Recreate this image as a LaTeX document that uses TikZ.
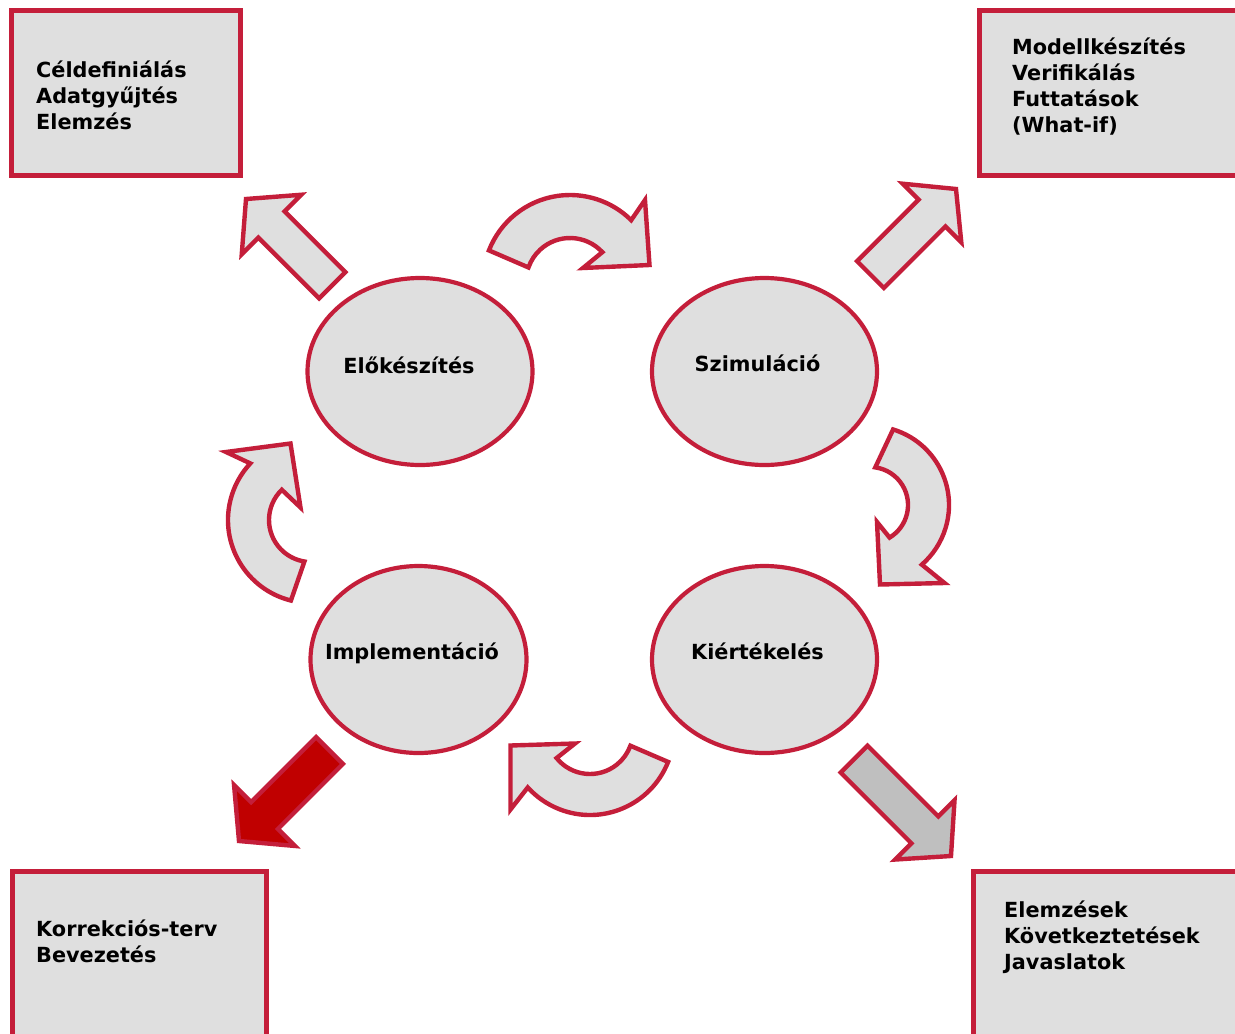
\documentclass[tikz,border=0pt]{standalone}
\usepackage{fontspec}
\setmainfont{DejaVu Sans}
\usetikzlibrary{shapes.geometric,calc}
\definecolor{crim}{HTML}{C41E3A}
\definecolor{lgray}{HTML}{DFDFDF}
\definecolor{mgray}{HTML}{BFBFBF}
\definecolor{dred}{HTML}{C00000}
\tikzset{
  box/.style={draw=crim, fill=lgray, line width=5pt, inner sep=0pt, outer sep=0pt, anchor=north west},
  phase/.style={ellipse, draw=crim, fill=lgray, line width=4.2pt, inner sep=0pt},
  lbl/.style={font=\fontsize{20.8}{26}\selectfont\bfseries, inner sep=0pt},
  boxtext/.style={lbl, align=left, anchor=base west},
  shp/.style={draw=crim, fill=lgray, line width=4.4pt, line join=miter},
}
% #1 style, #2 tip x, #3 tip y, #4 angle, #5 length, #6 shaft w, #7 head w, #8 head l
\newcommand\blockarrow[8]{%
  \draw[#1, shift={(#2,#3)}, rotate=#4] (0,0) -- (-#8,#7/2) -- (-#8,#6/2) -- (-#5,#6/2)
    -- (-#5,-#6/2) -- (-#8,-#6/2) -- (-#8,-#7/2) -- cycle;}
\begin{document}
\begin{tikzpicture}[x=1pt,y=1pt]
\useasboundingbox (0,0) rectangle (1235,-1034);
\clip (0,0) rectangle (1235,-1034);

% boxes
\node[box, minimum width=229pt, minimum height=165pt] (b1) at (11.5,-10.5) {};
\node[box, minimum width=280pt, minimum height=165pt] (b2) at (979.5,-10) {};
\node[box, minimum width=254pt, minimum height=180pt] (b3) at (12,-871.5) {};
\node[box, minimum width=280pt, minimum height=180pt] (b4) at (973,-871.5) {};

% (base anchor = baseline of the last line)
\node[boxtext] (t1) at (36,-129) {Céldefiniálás\\Adatgyűjtés\\Elemzés};
\node[boxtext] (t2) at (1012,-132) {Modellkészítés\\Verifikálás\\Futtatások\\(What-if)};
\node[boxtext] (t3) at (36,-962) {Korrekciós-terv\\Bevezetés};
\node[boxtext] (t4) at (1004,-969) {Elemzések\\Következtetések\\Javaslatok};

% phases
\node[phase, minimum width=225pt, minimum height=187pt] (e1) at (420,-371.5) {};
\node[phase, minimum width=225pt, minimum height=187pt] (e2) at (764.5,-371.5) {};
\node[phase, minimum width=216pt, minimum height=187pt] (e3) at (418.5,-659.5) {};
\node[phase, minimum width=225pt, minimum height=187pt] (e4) at (764.5,-659.5) {};

\node[lbl, anchor=base] (l1) at (409,-373) {Előkészítés};
\node[lbl, anchor=base] (l2) at (757.5,-371) {Szimuláció};
\node[lbl, anchor=base] (l3) at (412,-659) {Implementáció};
\node[lbl, anchor=base] (l4) at (757.5,-659) {Kiértékelés};

% straight block arrows
\blockarrow{shp}{246}{-199}{135}{122}{37}{84}{36}
\blockarrow{shp}{956}{-189}{45}{121}{38}{83}{34}
\blockarrow{shp, fill=dred}{239}{-841}{225}{128}{38}{86}{36}
\blockarrow{shp, fill=mgray}{951}{-856}{-45}{137}{38}{84}{37}

% curved arrows
\coordinate (cA) at (570,-282);
\coordinate (cB) at (870,-505);
\coordinate (cC) at (311,-520);
\coordinate (cD) at (590,-731);

\draw[shp] ($(cA)+(158.7:87)$) arc[start angle=158.7, end angle=45.3, radius=87]
  -- (645,-200) -- (649.5,-265) -- (583,-268)
  -- ($(cA)+(42.7:44)$) arc[start angle=42.7, end angle=160.7, radius=44] -- cycle;

\draw[shp] ($(cB)+(73:79)$) arc[start angle=73, end angle=-49, radius=79]
  -- (944.5,-583) -- (880,-584.5) -- (877,-522)
  -- ($(cB)+(-59:38)$) arc[start angle=-59, end angle=82, radius=38] -- cycle;

\draw[shp] ($(cC)+(256:83)$) arc[start angle=256, end angle=137, radius=83]
  -- (226,-452) -- (290.5,-443.5) -- (300.5,-507.5)
  -- ($(cC)+(134:42)$) arc[start angle=134, end angle=261, radius=42] -- cycle;

\draw[shp] ($(cD)+(-21.6:84)$) arc[start angle=-21.6, end angle=-137.8, radius=84]
  -- (510.5,-809.5) -- (510.5,-745.5) -- (575,-743.5)
  -- ($(cD)+(-141:43)$) arc[start angle=-141, end angle=-20, radius=43] -- cycle;
\end{tikzpicture}
\end{document}
